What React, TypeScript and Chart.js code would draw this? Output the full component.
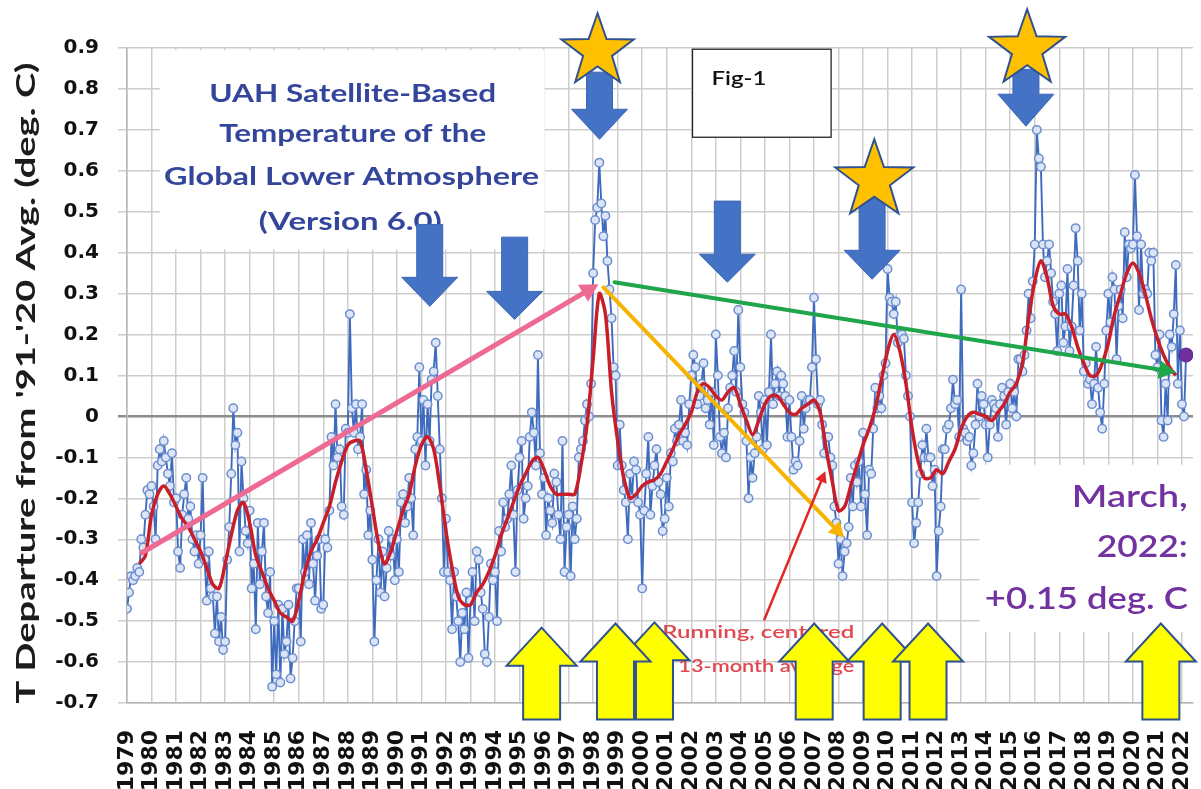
import React, { useEffect, useRef } from 'react';
import { Chart, registerables } from 'chart.js';

Chart.register(...registerables);

// ---------- axis ticks ----------
const yearLabels = [
  1979, 1980, 1981, 1982, 1983, 1984, 1985, 1986, 1987, 1988, 1989, 1990, 1991, 1992, 1993,
  1994, 1995, 1996, 1997, 1998, 1999, 2000, 2001, 2002, 2003, 2004, 2005, 2006, 2007, 2008,
  2009, 2010, 2011, 2012, 2013, 2014, 2015, 2016, 2017, 2018, 2019, 2020, 2021, 2022,
];
const yTickValues = [-0.7, -0.6, -0.5, -0.4, -0.3, -0.2, -0.1, 0, 0.1, 0.2, 0.3, 0.4, 0.5, 0.6, 0.7, 0.8, 0.9];

// ---------- monthly anomalies (deg C), one row per year, Jan..Dec ----------
const tlt1979to1988 = [
  [-0.47, -0.43, -0.39, -0.40, -0.39, -0.37, -0.38, -0.30, -0.32, -0.24, -0.18, -0.19],
  [-0.17, -0.22, -0.30, -0.12, -0.08, -0.11, -0.06, -0.10, -0.14, -0.17, -0.09, -0.21],
  [-0.20, -0.33, -0.37, -0.24, -0.19, -0.15, -0.25, -0.22, -0.30, -0.33, -0.29, -0.36],
  [-0.29, -0.15, -0.35, -0.45, -0.33, -0.42, -0.44, -0.53, -0.44, -0.55, -0.49, -0.57],
  [-0.55, -0.35, -0.27, -0.14, 0.02, -0.07, -0.04, -0.33, -0.11, -0.20, -0.28, -0.31],
  [-0.23, -0.42, -0.36, -0.52, -0.26, -0.41, -0.33, -0.26, -0.44, -0.48, -0.38, -0.66],
  [-0.50, -0.63, -0.46, -0.65, -0.47, -0.58, -0.55, -0.46, -0.64, -0.59, -0.50, -0.42],
  [-0.42, -0.55, -0.30, -0.38, -0.29, -0.41, -0.26, -0.36, -0.45, -0.34, -0.30, -0.47],
  [-0.46, -0.30, -0.32, -0.23, -0.05, -0.12, 0.03, -0.10, -0.08, -0.22, -0.24, -0.03],
  [-0.04, 0.25, 0.02, -0.04, 0.03, -0.08, -0.05, 0.03, -0.19, -0.13, -0.29, -0.23],
];
const tlt1989to1998 = [
  [-0.35, -0.55, -0.40, -0.30, -0.43, -0.33, -0.44, -0.37, -0.28, -0.34, -0.30, -0.40],
  [-0.30, -0.38, -0.21, -0.19, -0.26, -0.22, -0.15, -0.20, -0.29, -0.08, -0.05, 0.12],
  [-0.06, 0.04, -0.12, 0.03, -0.06, 0.09, 0.11, 0.18, 0.05, -0.08, -0.20, -0.38],
  [-0.25, -0.38, -0.40, -0.52, -0.38, -0.44, -0.50, -0.60, -0.48, -0.52, -0.43, -0.59],
  [-0.45, -0.38, -0.50, -0.33, -0.35, -0.43, -0.47, -0.58, -0.60, -0.49, -0.36, -0.40],
  [-0.38, -0.50, -0.28, -0.33, -0.21, -0.27, -0.25, -0.19, -0.12, -0.24, -0.38, -0.18],
  [-0.10, -0.06, -0.25, -0.20, -0.17, -0.05, 0.01, -0.04, -0.12, 0.15, -0.09, -0.19],
  [-0.15, -0.29, -0.20, -0.23, -0.26, -0.14, -0.16, -0.24, -0.30, -0.06, -0.38, -0.27],
  [-0.24, -0.39, -0.22, -0.30, -0.25, -0.10, -0.08, -0.06, -0.01, 0.03, 0.00, 0.08],
  [0.35, 0.48, 0.51, 0.62, 0.52, 0.44, 0.49, 0.38, 0.31, 0.24, 0.12, 0.10],
];
const tlt1999to2008 = [
  [-0.12, -0.02, -0.12, -0.18, -0.21, -0.30, -0.14, -0.20, -0.11, -0.13, -0.21, -0.24],
  [-0.42, -0.23, -0.14, -0.05, -0.24, -0.17, -0.12, -0.08, -0.16, -0.19, -0.28, -0.25],
  [-0.15, -0.22, -0.09, -0.11, -0.03, -0.06, -0.02, 0.04, -0.06, -0.04, -0.07, 0.03],
  [0.10, 0.15, 0.12, 0.03, 0.05, 0.08, 0.13, 0.02, 0.04, -0.02, 0.06, -0.07],
  [0.20, 0.10, -0.05, -0.09, -0.04, -0.10, 0.02, 0.07, 0.10, 0.16, 0.06, 0.26],
  [0.12, 0.03, 0.01, -0.06, -0.20, -0.10, -0.15, -0.09, -0.05, 0.05, 0.01, -0.08],
  [0.04, -0.07, 0.06, 0.20, 0.03, 0.08, 0.11, 0.05, 0.10, 0.08, 0.05, -0.05],
  [0.04, -0.05, -0.13, -0.11, -0.12, -0.06, 0.05, -0.03, 0.02, 0.04, 0.04, 0.12],
  [0.29, 0.14, 0.03, 0.04, -0.02, -0.09, -0.05, -0.05, -0.10, -0.12, -0.22, -0.26],
  [-0.36, -0.30, -0.39, -0.33, -0.31, -0.27, -0.15, -0.22, -0.12, -0.16, -0.11, -0.22],
];
const tlt2009to2018 = [
  [-0.04, -0.19, -0.29, -0.13, -0.14, -0.03, 0.07, 0.02, 0.05, 0.02, 0.10, 0.13],
  [0.36, 0.29, 0.28, 0.25, 0.28, 0.18, 0.20, 0.20, 0.19, 0.10, 0.05, 0.00],
  [-0.21, -0.31, -0.26, -0.21, -0.14, -0.07, -0.10, -0.03, -0.10, -0.10, -0.17, -0.13],
  [-0.39, -0.28, -0.22, -0.08, -0.08, -0.03, -0.02, 0.02, 0.09, 0.03, 0.04, -0.05],
  [0.31, -0.03, -0.04, -0.06, -0.05, -0.12, -0.09, -0.02, 0.08, 0.00, 0.05, 0.03],
  [-0.02, -0.10, -0.02, 0.04, 0.03, 0.02, -0.05, 0.03, 0.07, 0.05, -0.02, 0.06],
  [0.08, 0.02, 0.06, 0.00, 0.14, 0.14, 0.11, 0.15, 0.21, 0.30, 0.24, 0.33],
  [0.42, 0.70, 0.63, 0.61, 0.42, 0.34, 0.38, 0.42, 0.35, 0.28, 0.25, 0.16],
  [0.30, 0.32, 0.18, 0.22, 0.36, 0.16, 0.22, 0.32, 0.46, 0.38, 0.21, 0.30],
  [0.11, 0.13, 0.08, 0.09, 0.03, 0.08, 0.17, 0.07, 0.01, -0.03, 0.08, 0.21],
];
const tlt2019to2022 = [
  [0.30, 0.23, 0.34, 0.31, 0.14, 0.27, 0.31, 0.24, 0.45, 0.34, 0.42, 0.41],
  [0.42, 0.59, 0.44, 0.26, 0.42, 0.30, 0.31, 0.30, 0.40, 0.38, 0.40, 0.15],
  [0.12, 0.20, -0.01, -0.05, 0.08, -0.01, 0.20, 0.17, 0.25, 0.37, 0.08, 0.21],
  [0.03, -0.00, 0.15],
];
const tltBlocks = [
  { firstYear: 1979, rows: tlt1979to1988 },
  { firstYear: 1989, rows: tlt1989to1998 },
  { firstYear: 1999, rows: tlt1999to2008 },
  { firstYear: 2009, rows: tlt2009to2018 },
  { firstYear: 2019, rows: tlt2019to2022 },
];

// ---------- running, centered 13-month average ----------
const runningMeanStart = 1979.5;
const runningMeanStep = 0.25;
const runningMean = [
  -0.36, -0.34,
  -0.24, -0.19, -0.17, -0.19,
  -0.22, -0.25, -0.27, -0.30,
  -0.33, -0.37, -0.41, -0.42,
  -0.36, -0.29, -0.23, -0.21,
  -0.26, -0.34, -0.38, -0.42,
  -0.45, -0.48, -0.49, -0.50,
  -0.45, -0.38, -0.33, -0.30,
  -0.26, -0.22, -0.16, -0.11,
  -0.07, -0.06, -0.06, -0.13,
  -0.22, -0.31, -0.36, -0.33,
  -0.28, -0.23, -0.19, -0.12,
  -0.07, -0.05, -0.08, -0.17,
  -0.28, -0.37, -0.44, -0.46,
  -0.46, -0.43, -0.41, -0.38,
  -0.34, -0.29, -0.25, -0.21,
  -0.17, -0.14, -0.11, -0.10,
  -0.13, -0.17, -0.19, -0.19,
  -0.19, -0.19, -0.12, -0.02,
  0.14, 0.30, 0.25, 0.06,
  -0.06, -0.15, -0.20, -0.19,
  -0.17, -0.16, -0.155, -0.14,
  -0.11, -0.08, -0.045, -0.02,
  0.01, 0.06, 0.08, 0.07,
  0.05, 0.04, 0.06, 0.07,
  0.03, -0.01, -0.045, -0.01,
  0.03, 0.05, 0.05, 0.03,
  0.01, 0.005, 0.02, 0.03,
  0.04, 0.01, -0.08, -0.16,
  -0.23, -0.22, -0.17, -0.12,
  -0.07, -0.03, 0.02, 0.09,
  0.16, 0.20, 0.16, 0.08,
  -0.03, -0.11, -0.15, -0.15,
  -0.13, -0.14, -0.11, -0.08,
  -0.03, 0.00, 0.01, 0.005,
  0.00, -0.01, 0.01, 0.03,
  0.06, 0.08, 0.13, 0.24,
  0.33, 0.38, 0.34, 0.27,
  0.25, 0.25, 0.22, 0.17,
  0.13, 0.10, 0.10, 0.13,
  0.18, 0.25, 0.30, 0.35,
  0.375, 0.35, 0.30, 0.24,
  0.19, 0.15, 0.12, 0.10,
];

// latest month (March 2022)
const latestMonthYear = 2022.167;
const latestMonthValue = 0.15;

// ---------- annotations (in data units: year, deg C) ----------
const whiteBoxes = [
  { x0: 1980.34, x1: 1996.02, y0: 0.895, y1: 0.408, border: false },
  { x0: 2002.05, x1: 2007.7, y0: 0.897, y1: 0.682, border: true },
  { x0: 2013.75, x1: 2022.6, y0: -0.118, y1: -0.526, border: false },
];
const titleLines = [
  { text: 'UAH Satellite-Based', x: 1988.2, y: 0.787, w: 287 },
  { text: 'Temperature of the', x: 1988.2, y: 0.689, w: 267 },
  { text: 'Global Lower Atmosphere', x: 1988.15, y: 0.584, w: 375 },
  { text: '(Version 6.0)', x: 1988.1, y: 0.474, w: 183 },
];
const figLabel = { text: 'Fig-1', x: 2002.82, y: 0.824, w: 55 };
const noteLines = [
  { text: 'Running, centered', x: 2004.73, y: -0.528, w: 192 },
  { text: '13-month average', x: 2005.06, y: -0.611, w: 176 },
];
const latestLines = [
  { text: 'March,', x: 2022.24, y: -0.196, w: 116 },
  { text: '2022:', x: 2022.24, y: -0.32, w: 91 },
  { text: '+0.15 deg. C', x: 2022.24, y: -0.447, w: 203 },
];
const trendArrows = [
  { x0: 1979.61, y0: -0.333, x1: 1998.22, y1: 0.323, color: '#ee6a92', width: 5, head: 18 },
  { x0: 1998.42, y0: 0.315, x1: 2008.23, y1: -0.296, color: '#f6b400', width: 4, head: 15 },
  { x0: 1998.87, y0: 0.328, x1: 2021.75, y1: 0.108, color: '#1fa64a', width: 4, head: 17 },
  { x0: 2004.98, y0: -0.496, x1: 2007.46, y1: -0.134, color: '#e02828', width: 2.5, head: 11 },
];
const downArrows = [
  { x: 1998.26, top: 0.841, tip: 0.677, head: 30 },
  { x: 2015.64, top: 0.848, tip: 0.709, head: 32 },
  { x: 2009.37, top: 0.538, tip: 0.335, head: 29 },
  { x: 1991.34, top: 0.469, tip: 0.269, head: 29 },
  { x: 1994.8, top: 0.438, tip: 0.237, head: 28 },
  { x: 2003.47, top: 0.526, tip: 0.328, head: 28 },
];
const stars = [
  { x: 1998.18, y: 0.892, r: 38 },
  { x: 2015.69, y: 0.897, r: 40 },
  { x: 2009.46, y: 0.577, r: 41 },
];
const upArrows = [
  { x: 1995.9, tip: -0.516, base: -0.74 },
  { x: 2000.5, tip: -0.503, base: -0.74 },
  { x: 1998.91, tip: -0.506, base: -0.74 },
  { x: 2007.01, tip: -0.506, base: -0.74 },
  { x: 2009.78, tip: -0.506, base: -0.74 },
  { x: 2011.65, tip: -0.506, base: -0.74 },
  { x: 2021.14, tip: -0.506, base: -0.74 },
];
const yAxisTitle = "T Departure from '91-'20 Avg. (deg. C)";

// ---------- helpers ----------
function buildMonthly() {
  const pts: { x: number; y: number }[] = [];
  tltBlocks.forEach((block) => {
    block.rows.forEach((row, i) => {
      row.forEach((v, m) => pts.push({ x: block.firstYear + i + m / 12, y: v }));
    });
  });
  return pts;
}
function buildRunning() {
  return runningMean.map((v, i) => ({ x: runningMeanStart + i * runningMeanStep, y: v }));
}

function fitText(
  ctx: CanvasRenderingContext2D,
  text: string,
  x: number,
  y: number,
  font: string,
  width: number,
  align: CanvasTextAlign,
  color: string,
) {
  ctx.save();
  ctx.font = font;
  ctx.fillStyle = color;
  ctx.textBaseline = 'middle';
  ctx.textAlign = align;
  const w = ctx.measureText(text).width || 1;
  ctx.translate(x, y);
  ctx.scale(width / w, 1);
  ctx.fillText(text, 0, 0);
  ctx.restore();
}

function lineArrow(ctx: CanvasRenderingContext2D, x0: number, y0: number, x1: number, y1: number, color: string, width: number, head: number) {
  const ang = Math.atan2(y1 - y0, x1 - x0);
  const bx = x1 - head * Math.cos(ang);
  const by = y1 - head * Math.sin(ang);
  ctx.save();
  ctx.strokeStyle = color;
  ctx.lineWidth = width;
  ctx.lineCap = 'round';
  ctx.beginPath();
  ctx.moveTo(x0, y0);
  ctx.lineTo(bx, by);
  ctx.stroke();
  const hw = head * 0.55;
  ctx.fillStyle = color;
  ctx.beginPath();
  ctx.moveTo(x1, y1);
  ctx.lineTo(bx + hw * Math.sin(ang), by - hw * Math.cos(ang));
  ctx.lineTo(bx - hw * Math.sin(ang), by + hw * Math.cos(ang));
  ctx.closePath();
  ctx.fill();
  ctx.restore();
}

function blockArrow(ctx: CanvasRenderingContext2D, cx: number, yStart: number, yTip: number, shaftW: number, headW: number, headH: number) {
  const dir = yTip > yStart ? 1 : -1;
  const yHead = yTip - dir * headH;
  ctx.beginPath();
  ctx.moveTo(cx - shaftW / 2, yStart);
  ctx.lineTo(cx + shaftW / 2, yStart);
  ctx.lineTo(cx + shaftW / 2, yHead);
  ctx.lineTo(cx + headW / 2, yHead);
  ctx.lineTo(cx, yTip);
  ctx.lineTo(cx - headW / 2, yHead);
  ctx.lineTo(cx - shaftW / 2, yHead);
  ctx.closePath();
}

function starPath(ctx: CanvasRenderingContext2D, cx: number, cy: number, R: number) {
  const r = R * 0.4;
  ctx.beginPath();
  for (let i = 0; i < 10; i++) {
    const a = -Math.PI / 2 + (i * Math.PI) / 5;
    const rad = i % 2 === 0 ? R : r;
    ctx.lineTo(cx + rad * Math.cos(a), cy + rad * Math.sin(a));
  }
  ctx.closePath();
}

const annotationPlugin = {
  id: 'uahAnnotations',
  beforeDatasetsDraw(chart: any) {
    const { ctx } = chart;
    const X = (v: number) => chart.scales.x.getPixelForValue(v);
    const Y = (v: number) => chart.scales.y.getPixelForValue(v);
    ctx.save();
    whiteBoxes.forEach((b) => {
      const x0 = X(b.x0);
      const x1 = Math.min(X(b.x1), chart.chartArea.right);
      const y0 = Y(b.y0);
      const y1 = Y(b.y1);
      ctx.fillStyle = '#ffffff';
      ctx.fillRect(x0, y0, x1 - x0, y1 - y0);
      if (b.border) {
        ctx.strokeStyle = '#262626';
        ctx.lineWidth = 1.3;
        ctx.strokeRect(x0, y0, x1 - x0, y1 - y0);
      }
    });
    titleLines.forEach((t) => fitText(ctx, t.text, X(t.x), Y(t.y), 'bold 25px Lato', t.w, 'center', '#34469c'));
    fitText(ctx, figLabel.text, X(figLabel.x), Y(figLabel.y), '600 19px Lato', figLabel.w, 'left', '#111111');
    ctx.restore();
  },
  afterDraw(chart: any) {
    const { ctx } = chart;
    const X = (v: number) => chart.scales.x.getPixelForValue(v);
    const Y = (v: number) => chart.scales.y.getPixelForValue(v);
    ctx.save();

    // y axis title
    ctx.save();
    ctx.translate(26, 383);
    ctx.rotate(-Math.PI / 2);
    fitText(ctx, yAxisTitle, 0, 0, 'bold 27px Lato', 641, 'center', '#1c1c1c');
    ctx.restore();

    // trend arrows
    trendArrows.forEach((a) => lineArrow(ctx, X(a.x0), Y(a.y0), X(a.x1), Y(a.y1), a.color, a.width, a.head));

    // blue down arrows
    downArrows.forEach((a) => {
      blockArrow(ctx, X(a.x), Y(a.top), Y(a.tip), 26, 56, a.head);
      ctx.fillStyle = '#4472c4';
      ctx.fill();
      ctx.strokeStyle = '#3d66b5';
      ctx.lineWidth = 1;
      ctx.stroke();
    });

    // stars
    stars.forEach((s) => {
      starPath(ctx, X(s.x), Y(s.y), s.r);
      ctx.fillStyle = '#ffc000';
      ctx.fill();
      ctx.strokeStyle = '#2f528f';
      ctx.lineWidth = 2;
      ctx.lineJoin = 'miter';
      ctx.stroke();
    });

    // red note text
    noteLines.forEach((t) => fitText(ctx, t.text, X(t.x), Y(t.y), '600 17px Lato', t.w, 'center', '#e0474f'));

    // yellow up arrows
    upArrows.forEach((a) => {
      blockArrow(ctx, X(a.x), Y(a.base), Y(a.tip), 37, 70, 38);
      ctx.fillStyle = '#ffff00';
      ctx.fill();
      ctx.strokeStyle = '#2f528f';
      ctx.lineWidth = 2;
      ctx.lineJoin = 'miter';
      ctx.stroke();
    });

    // latest value text
    latestLines.forEach((t) => fitText(ctx, t.text, X(t.x), Y(t.y), '600 31px Lato', t.w, 'right', '#7232a0'));

    ctx.restore();
  },
};

function formatYTick(v: any) {
  const r = Math.round(Number(v) * 10) / 10;
  return r === 0 ? '0' : r.toFixed(1);
}

export default function App() {
  const ref = useRef<HTMLCanvasElement | null>(null);

  useEffect(() => {
    const canvas = ref.current;
    if (!canvas) return;
    const chart = new Chart(canvas, {
      type: 'line',
      data: {
        datasets: [
          {
            label: 'March 2022',
            data: [{ x: latestMonthYear, y: latestMonthValue }],
            showLine: false,
            pointRadius: 7,
            pointBackgroundColor: '#7030a0',
            pointBorderColor: '#5b2489',
            pointBorderWidth: 1,
            order: 0,
          },
          {
            label: 'Running, centered 13-month average',
            data: buildRunning(),
            borderColor: '#c81e2a',
            borderWidth: 3.5,
            pointRadius: 0,
            tension: 0.3,
            order: 1,
          },
          {
            label: 'Monthly',
            data: buildMonthly(),
            borderColor: '#3f6bbf',
            borderWidth: 1.9,
            pointRadius: 4.2,
            pointBorderWidth: 1.5,
            pointBorderColor: '#6d8fd0',
            pointBackgroundColor: '#dce5f5',
            order: 2,
          },
        ],
      },
      options: {
        responsive: false,
        animation: false,
        devicePixelRatio: 1,
        layout: { padding: { left: 0, top: 48, right: 7, bottom: 0 } },
        plugins: {
          legend: { display: false },
          tooltip: { enabled: false },
          title: { display: false },
        },
        scales: {
          x: {
            type: 'linear',
            min: 1979,
            max: 2022.45,
            afterBuildTicks: (s: any) => {
              s.ticks = yearLabels.map((v) => ({ value: v }));
            },
            afterFit: (s: any) => {
              s.height = 86;
              s.paddingLeft = 0;
              s.paddingRight = 0;
            },
            grid: { color: '#cdcdcd', lineWidth: 1.5, drawTicks: false },
            border: { color: '#b5b5b5', width: 1.5 },
            ticks: {
              autoSkip: false,
              maxRotation: 90,
              minRotation: 90,
              padding: 27,
              color: '#111111',
              font: { family: 'DejaVu Sans', weight: 'bold', size: 22 },
              callback: (v: any) => String(v),
            },
          },
          y: {
            type: 'linear',
            min: -0.7,
            max: 0.9,
            afterBuildTicks: (s: any) => {
              s.ticks = yTickValues.map((v) => ({ value: v }));
            },
            afterFit: (s: any) => {
              s.width = 127;
            },
            grid: {
              color: (c: any) => (c.tick && Math.abs(c.tick.value) < 1e-9 ? '#8c8c8c' : '#cdcdcd'),
              lineWidth: (c: any) => (c.tick && Math.abs(c.tick.value) < 1e-9 ? 2.5 : 1.5),
              tickLength: 9,
            },
            border: { color: '#b5b5b5', width: 1.5 },
            ticks: {
              padding: 19,
              color: '#111111',
              font: { family: 'DejaVu Sans', weight: 'bold', size: 20 },
              callback: formatYTick,
            },
          },
        },
      },
      plugins: [annotationPlugin],
    } as any);
    return () => chart.destroy();
  }, []);

  return (
    <div style={{ position: 'absolute', left: 0, top: 0, width: 1201, height: 789, background: '#ffffff' }}>
      <canvas ref={ref} width={1201} height={789} style={{ display: 'block', width: 1201, height: 789 }} />
    </div>
  );
}
